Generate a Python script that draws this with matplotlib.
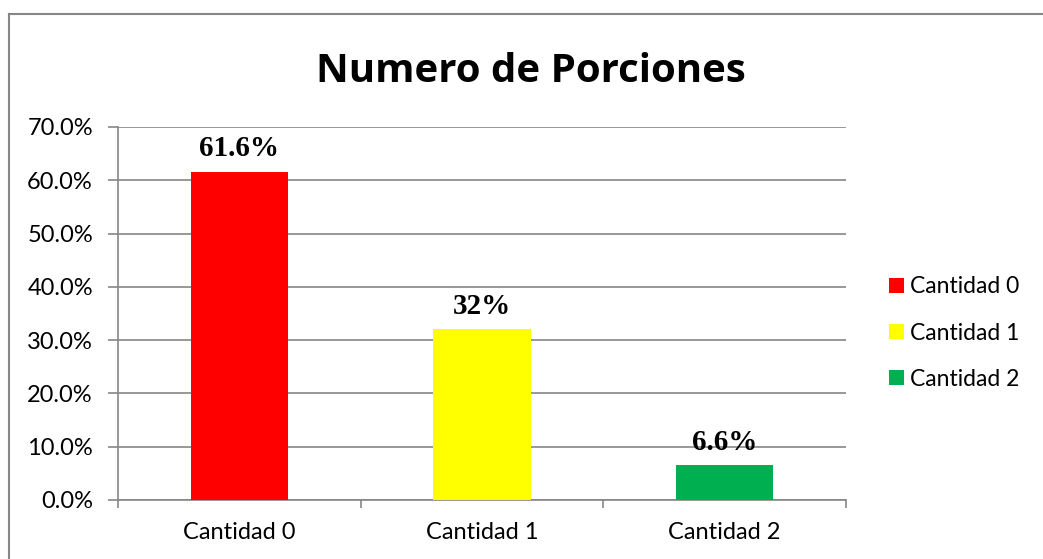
import matplotlib
matplotlib.use('Agg')
import matplotlib.pyplot as plt
from matplotlib.patches import Patch
from matplotlib.lines import Line2D

# data
categories = ['Cantidad 0', 'Cantidad 1', 'Cantidad 2']
values = [61.6, 32.0, 6.6]
value_labels = ['61.6%', '32%', '6.6%']
colors = ['#FF0000', '#FFFF00', '#00B050']
yticks = [0, 10, 20, 30, 40, 50, 60, 70]

plt.rcParams['font.serif'] = ['Liberation Serif', 'DejaVu Serif']
sans = ['Lato', 'DejaVu Sans']

W, H = 1043, 559
fig = plt.figure(figsize=(W/100, H/100), dpi=100)

# outer chart frame (only left and top edges are visible)
grey = '#868686'
fig.add_artist(Line2D([9/W, 9/W], [0, 1 - 14/H], transform=fig.transFigure, color=grey, lw=1.5))
fig.add_artist(Line2D([9/W, 1], [1 - 14/H, 1 - 14/H], transform=fig.transFigure, color=grey, lw=1.5))

ax = fig.add_axes([118/W, 59/H, (846-118)/W, (500-127)/H])
x = range(len(categories))
ax.bar(x, values, width=0.40, color=colors, zorder=3)

ax.set_xlim(-0.5, 2.5)
ax.set_ylim(0, 70)
ax.set_yticks(yticks)
ax.set_yticklabels(['%.1f%%' % v for v in yticks], fontfamily=sans, fontsize=17)
ax.yaxis.grid(True, color=grey, lw=1.2, zorder=0)
ax.set_xticks([-0.5, 0.5, 1.5, 2.5])
ax.set_xticklabels([])
ax.set_xticks(list(x), minor=True)
ax.set_xticklabels(categories, minor=True, fontfamily=sans, fontsize=17)
ax.tick_params(axis='x', which='major', length=6, color=grey, width=1.2)
ax.tick_params(axis='x', which='minor', length=0, pad=16)
ax.tick_params(axis='y', length=7, color=grey, width=1.2, pad=11)
for s in ['top', 'right']:
    ax.spines[s].set_visible(False)
for s in ['left', 'bottom']:
    ax.spines[s].set_color(grey)
    ax.spines[s].set_linewidth(1.2)

for i, (v, lab) in enumerate(zip(values, value_labels)):
    ax.annotate(lab, (i, v), xytext=(0, 11), textcoords='offset points', ha='center', va='baseline',
                fontfamily='serif', fontweight='bold', fontsize=21, zorder=4)

fig.text(531/W, 1 - 71/H, 'Numero de Porciones', ha='center', va='center',
         fontfamily=['Open Sans', 'DejaVu Sans'], fontweight='bold', fontsize=29)

handles = [Patch(facecolor=c) for c in colors]
fig.legend(handles, categories, loc='center left', bbox_to_anchor=(868/W, 1 - 333/H), frameon=False,
           prop={'family': sans, 'size': 16.5}, handlelength=0.65, handleheight=0.65,
           handletextpad=0.3, labelspacing=1.1)

fig.savefig('out.png', dpi=100)
